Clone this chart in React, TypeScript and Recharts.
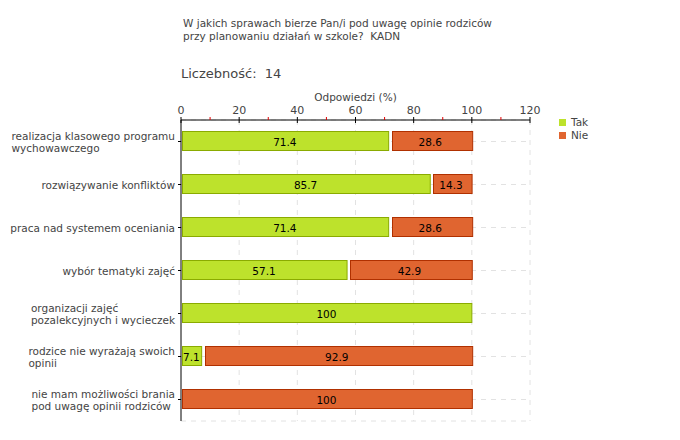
import React from "react";
import {
  Bar,
  BarChart,
  CartesianGrid,
  LabelList,
  XAxis,
  YAxis,
} from "recharts";

const categories = [
  "realizacja klasowego programu\nwychowawczego",
  "rozwiązywanie konfliktów",
  "praca nad systemem oceniania",
  "wybór tematyki zajęć",
  "organizacji zajęć\npozalekcyjnych i wycieczek",
  "rodzice nie wyrażają swoich\nopinii",
  "nie mam możliwości brania\npod uwagę opinii rodziców",
];
const takValues = [71.4, 85.7, 71.4, 57.1, 100, 7.1, 0];
const nieValues = [28.6, 14.3, 28.6, 42.9, 0, 92.9, 100];
const xTicks = [0, 10, 20, 30, 40, 50, 60, 70, 80, 90, 100, 110, 120];
const gridValues = [20, 40, 60, 80, 100, 120];

const FONT = "'DejaVu Sans', Verdana, sans-serif";
const TEXT = "#444";
const SMALL = 10.5;
const TAK_FILL = "#bde22c";
const TAK_STROKE = "#8aab00";
const NIE_FILL = "#e06530";
const NIE_STROKE = "#b03000";

const W = 680;
const H = 440;
const PLOT_TOP = 120;
const PLOT_LEFT = 181;
const PLOT_RIGHT = 530;
const PLOT_BOTTOM = 421;
const XAXIS_H = 30;

const data = categories.map((name, i) => ({
  name,
  tak: takValues[i],
  nie: nieValues[i],
}));

let ctx: CanvasRenderingContext2D | null = null;
function textWidth(s: string, size: number) {
  if (!ctx) ctx = document.createElement("canvas").getContext("2d");
  if (!ctx) return s.length * size * 0.6;
  ctx.font = `${size}px ${FONT}`;
  return ctx.measureText(s).width;
}

function XTick(props: any) {
  const { x, payload } = props;
  const v = payload.value as number;
  const major = v % 20 === 0;
  if (!major) {
    return (
      <line x1={x} x2={x} y1={PLOT_TOP - 3} y2={PLOT_TOP} stroke="#e00000" />
    );
  }
  return (
    <g>
      <line x1={x} x2={x} y1={PLOT_TOP - 3} y2={PLOT_TOP + 3} stroke="#000" />
      <text
        x={x}
        y={PLOT_TOP - 6}
        textAnchor="middle"
        fill={TEXT}
        fontSize={11}
        fontFamily={FONT}
      >
        {v}
      </text>
    </g>
  );
}

function YTick(props: any) {
  const { y, payload } = props;
  const lines = String(payload.value).split("\n");
  const blockW = Math.max(...lines.map((l) => textWidth(l, SMALL)));
  const left = PLOT_LEFT - 6 - blockW;
  const lh = 12;
  const first = y - ((lines.length - 1) * lh) / 2;
  return (
    <text fill={TEXT} fontSize={SMALL} fontFamily={FONT} dominantBaseline="central">
      {lines.map((l, i) => (
        <tspan key={i} x={left} y={first + i * lh}>
          {l}
        </tspan>
      ))}
    </text>
  );
}

function TakShape(props: any) {
  const { x, y, width, height } = props;
  if (!width || width <= 0) return <g />;
  return (
    <rect
      x={Math.round(x) + 1.5}
      y={Math.round(y) - 0.5}
      width={Math.max(1, width - 1.5)}
      height={height - 1}
      fill={TAK_FILL}
      stroke={TAK_STROKE}
    />
  );
}

function NieShape(props: any) {
  const { x, y, width, height, payload } = props;
  if (!width || width <= 0) return <g />;
  const inset = payload && payload.tak > 0 ? 3 : 1;
  return (
    <rect
      x={Math.round(x) + inset + 0.5}
      y={Math.round(y) - 0.5}
      width={width - inset}
      height={height - 1}
      fill={NIE_FILL}
      stroke={NIE_STROKE}
    />
  );
}

const fmtLabel = (v: any) => (Number(v) > 0 ? String(v) : "");

export default function App() {
  return (
    <div
      style={{
        position: "absolute",
        left: 0,
        top: 0,
        width: W,
        height: H,
        background: "#fff",
        fontFamily: FONT,
        color: TEXT,
      }}
    >
      <div style={{ position: "absolute", left: 183, top: 17, fontSize: SMALL, lineHeight: "13px" }}>
        W jakich sprawach bierze Pan/i pod uwagę opinie rodziców
        <br />
        przy planowaniu działań w szkole?&nbsp; KADN
      </div>
      <div style={{ position: "absolute", left: 181, top: 66, fontSize: 13 }}>
        Liczebność:&nbsp; 14
      </div>
      <div
        style={{
          position: "absolute",
          left: PLOT_LEFT,
          width: PLOT_RIGHT - PLOT_LEFT,
          top: 91,
          fontSize: SMALL,
          textAlign: "center",
        }}
      >
        Odpowiedzi (%)
      </div>
      <div style={{ position: "absolute", left: 559, top: 116, fontSize: SMALL, lineHeight: "13px" }}>
        <div style={{ display: "flex", alignItems: "center" }}>
          <span style={{ width: 7, height: 7, background: TAK_FILL, marginRight: 5 }} />
          Tak
        </div>
        <div style={{ display: "flex", alignItems: "center" }}>
          <span style={{ width: 7, height: 7, background: NIE_FILL, marginRight: 5 }} />
          Nie
        </div>
      </div>
      <BarChart
        width={W}
        height={H}
        data={data}
        layout="vertical"
        barSize={20}
        margin={{
          top: PLOT_TOP - XAXIS_H,
          right: W - PLOT_RIGHT,
          bottom: H - PLOT_BOTTOM,
          left: 0,
        }}
        style={{ position: "absolute", left: 0, top: 0 }}
      >
        <CartesianGrid
          stroke="#e2e2e2"
          strokeDasharray="5 5"
          verticalValues={gridValues}
        />
        <XAxis
          type="number"
          orientation="top"
          domain={[0, 120]}
          ticks={xTicks}
          interval={0}
          height={XAXIS_H}
          axisLine={{ stroke: "#000" }}
          tickLine={false}
          tick={<XTick />}
        />
        <YAxis
          type="category"
          dataKey="name"
          width={PLOT_LEFT}
          axisLine={{ stroke: "#000" }}
          tickLine={{ stroke: "#000" }}
          tickSize={3}
          tick={<YTick />}
          interval={0}
        />
        <Bar dataKey="tak" stackId="a" shape={<TakShape />} isAnimationActive={false}>
          <LabelList
            dataKey="tak"
            position="center"
            formatter={fmtLabel}
            fill="#000"
            fontSize={SMALL}
            fontFamily={FONT}
          />
        </Bar>
        <Bar dataKey="nie" stackId="a" shape={<NieShape />} isAnimationActive={false}>
          <LabelList
            dataKey="nie"
            position="center"
            formatter={fmtLabel}
            fill="#000"
            fontSize={SMALL}
            fontFamily={FONT}
          />
        </Bar>
      </BarChart>
    </div>
  );
}
